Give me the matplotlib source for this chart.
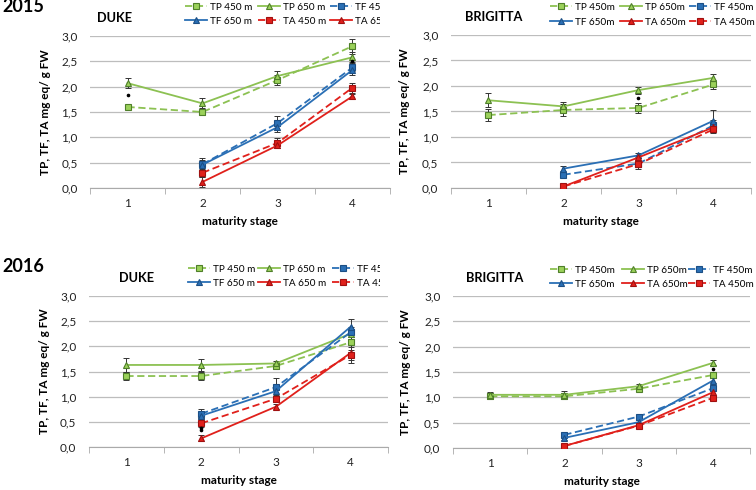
import numpy as np
import matplotlib.pyplot as plt
from matplotlib.ticker import FixedLocator, FuncFormatter
from matplotlib.transforms import Bbox, TransformedBbox

plt.rcParams['font.family'] = ['Lato', 'DejaVu Sans']

nan = np.nan
stages = [1, 2, 3, 4]
tick_labels = ['1', '2', '3', '4']

# 2015 DUKE
d15_tp450 = [1.60, 1.50, 2.13, 2.80]; d15_tp450_e = [0.03, 0.05, 0.10, 0.15]
d15_tp650 = [2.07, 1.67, 2.21, 2.58]; d15_tp650_e = [0.10, 0.10, 0.10, 0.10]
d15_tf450 = [nan, 0.47, 1.28, 2.38]; d15_tf450_e = [nan, 0.12, 0.14, 0.08]
d15_tf650 = [nan, 0.46, 1.20, 2.33]; d15_tf650_e = [nan, 0.10, 0.10, 0.10]
d15_ta450 = [nan, 0.30, 0.89, 1.98]; d15_ta450_e = [nan, 0.08, 0.10, 0.10]
d15_ta650 = [nan, 0.12, 0.84, 1.81]; d15_ta650_e = [nan, 0.10, 0.05, 0.05]
# 2015 BRIGITTA
b15_tp450 = [1.43, 1.53, 1.57, 2.03]; b15_tp450_e = [0.12, 0.12, 0.10, 0.08]
b15_tp650 = [1.72, 1.60, 1.92, 2.16]; b15_tp650_e = [0.14, 0.08, 0.07, 0.08]
b15_tf450 = [nan, 0.26, 0.48, 1.23]; b15_tf450_e = [nan, 0.03, 0.10, 0.10]
b15_tf650 = [nan, 0.38, 0.64, 1.32]; b15_tf650_e = [nan, 0.05, 0.05, 0.20]
b15_ta650 = [nan, 0.03, 0.60, 1.19]; b15_ta650_e = [nan, 0.02, 0.05, 0.08]
b15_ta450 = [nan, 0.03, 0.47, 1.15]; b15_ta450_e = [nan, 0.02, 0.05, 0.08]
# 2016 DUKE
d16_tp450 = [1.41, 1.41, 1.61, 2.08]; d16_tp450_e = [0.08, 0.08, 0.06, 0.10]
d16_tp650 = [1.63, 1.63, 1.66, 2.25]; d16_tp650_e = [0.14, 0.12, 0.05, 0.10]
d16_tf450 = [nan, 0.66, 1.19, 2.28]; d16_tf450_e = [nan, 0.09, 0.18, 0.10]
d16_tf650 = [nan, 0.62, 1.11, 2.39]; d16_tf650_e = [nan, 0.05, 0.08, 0.15]
d16_ta650 = [nan, 0.17, 0.80, 1.87]; d16_ta650_e = [nan, 0.06, 0.05, 0.20]
d16_ta450 = [nan, 0.47, 0.96, 1.83]; d16_ta450_e = [nan, 0.08, 0.06, 0.10]
# 2016 BRIGITTA
b16_tp450 = [1.02, 1.02, 1.17, 1.44]; b16_tp450_e = [0.06, 0.05, 0.04, 0.05]
b16_tp650 = [1.05, 1.05, 1.22, 1.68]; b16_tp650_e = [0.05, 0.07, 0.05, 0.05]
b16_tf450 = [nan, 0.26, 0.62, 1.18]; b16_tf450_e = [nan, 0.03, 0.03, 0.05]
b16_tf650 = [nan, 0.20, 0.51, 1.33]; b16_tf650_e = [nan, 0.04, 0.04, 0.05]
b16_ta650 = [nan, 0.04, 0.45, 1.10]; b16_ta650_e = [nan, 0.02, 0.04, 0.05]
b16_ta450 = [nan, 0.04, 0.44, 0.99]; b16_ta450_e = [nan, 0.02, 0.04, 0.04]

# significance dots (stage, value)
sig15d = [(1, 1.83), (4, 2.50)]
sig15b = [(3, 1.76)]
sig16d = [(2, 0.33), (2, 0.38)]
sig16b = [(4, 1.56)]

GREEN, GFACE, GEDGE = '#8cc152', '#9bd15a', '#4f7f2a'
BLUE, BEDGE = '#2a6fb5', '#1c4f85'
RED, REDGE = '#e0201b', '#a01010'

def style(kind, alt):
    dash = (0, (4, 2))
    face = {'TP': GFACE, 'TF': BLUE, 'TA': RED}[kind]
    edge = {'TP': GEDGE, 'TF': BEDGE, 'TA': REDGE}[kind]
    line = {'TP': GREEN, 'TF': BLUE, 'TA': RED}[kind]
    return dict(color=line, ls=dash if alt == '450' else '-',
                marker='s' if alt == '450' else '^', mfc=face, mec=edge)

W, H = 756, 490
fig = plt.figure(figsize=(W / 100, H / 100), dpi=100)

def rect(l, t, r, b):
    return [l / W, 1 - b / H, (r - l) / W, (b - t) / H]

panels = [
    dict(rect=rect(90, 36, 390, 188), title='DUKE', tx=97, ty=18, year='2015', yy=7,
         cols=[185, 258, 330], rows=(8, 23), sp=' m', clip=380, ylx=51, sig=sig15d,
         series=[('TP', '450', d15_tp450, d15_tp450_e), ('TP', '650', d15_tp650, d15_tp650_e),
                 ('TF', '450', d15_tf450, d15_tf450_e), ('TF', '650', d15_tf650, d15_tf650_e),
                 ('TA', '450', d15_ta450, d15_ta450_e), ('TA', '650', d15_ta650, d15_ta650_e)]),
    dict(rect=rect(451, 35, 751, 188), title='BRIGITTA', tx=465, ty=17, year=None,
         cols=[550, 620, 689], rows=(8, 24), sp='m', clip=None, ylx=410, sig=sig15b,
         series=[('TP', '450', b15_tp450, b15_tp450_e), ('TP', '650', b15_tp650, b15_tp650_e),
                 ('TF', '450', b15_tf450, b15_tf450_e), ('TF', '650', b15_tf650, b15_tf650_e),
                 ('TA', '650', b15_ta650, b15_ta650_e), ('TA', '450', b15_ta450, b15_ta450_e)]),
    dict(rect=rect(89, 296, 388, 447), title='DUKE', tx=119, ty=278, year='2016', yy=267,
         cols=[188, 258, 332], rows=(270, 285), sp=' m', clip=380, ylx=50, sig=sig16d,
         series=[('TP', '450', d16_tp450, d16_tp450_e), ('TP', '650', d16_tp650, d16_tp650_e),
                 ('TF', '450', d16_tf450, d16_tf450_e), ('TF', '650', d16_tf650, d16_tf650_e),
                 ('TA', '650', d16_ta650, d16_ta650_e), ('TA', '450', d16_ta450, d16_ta450_e)]),
    dict(rect=rect(453, 296, 750, 448), title='BRIGITTA', tx=466, ty=278, year=None,
         cols=[550, 622, 688], rows=(271, 286), sp='m', clip=None, ylx=411, sig=sig16b,
         series=[('TP', '450', b16_tp450, b16_tp450_e), ('TP', '650', b16_tp650, b16_tp650_e),
                 ('TF', '450', b16_tf450, b16_tf450_e), ('TF', '650', b16_tf650, b16_tf650_e),
                 ('TA', '650', b16_ta650, b16_ta650_e), ('TA', '450', b16_ta450, b16_ta450_e)]),
]

FS_LEG = 7.2
for p in panels:
    ax = fig.add_axes(p['rect'])
    handles, labels = [], []
    for kind, alt, vals, errs in p['series']:
        st = style(kind, alt)
        ax.errorbar(stages, vals, yerr=errs, fmt='none', ecolor='#333333',
                    elinewidth=0.7, capsize=2, capthick=0.7, zorder=2)
        h, = ax.plot(stages, vals, color=st['color'], ls=st['ls'], lw=1.3,
                     marker=st['marker'], ms=5, mfc=st['mfc'], mec=st['mec'],
                     mew=0.8, zorder=3)
        handles.append(h)
        labels.append(f'{kind} {alt}{p["sp"]}')
    for sx, sy in p['sig']:
        ax.plot(sx, sy, 'o', color='black', ms=1.6, zorder=4)

    ax.set_xlim(0.5, 4.5)
    ax.set_ylim(0, 3.0)
    ax.set_xticks(stages)
    ax.set_xticklabels(tick_labels)
    ax.xaxis.set_minor_locator(FixedLocator([0.5, 1.5, 2.5, 3.5, 4.5]))
    ax.tick_params(axis='x', which='major', length=0, labelsize=8.5, pad=7, colors='#222222')
    ax.tick_params(axis='x', which='minor', length=4, color='#aaaaaa')
    ax.set_yticks(np.arange(0, 3.01, 0.5))
    ax.yaxis.set_major_formatter(FuncFormatter(lambda v, _: f'{v:.1f}'.replace('.', ',')))
    ax.tick_params(axis='y', length=0, labelsize=8.5, pad=9, colors='#222222')
    ax.grid(axis='y', color='#bdbdbd', lw=0.9)
    ax.set_axisbelow(True)
    for s in ['top', 'right', 'left']:
        ax.spines[s].set_visible(False)
    ax.spines['bottom'].set_color('#aaaaaa')
    ax.set_xlabel('maturity stage', fontsize=8.5, fontweight='bold', labelpad=5)
    ax.set_ylabel('TP, TF, TA mg eq/ g FW', fontsize=8.5, fontweight='bold')
    l, b, w, hh = p['rect']
    ax.yaxis.set_label_coords((p['ylx'] / W - l) / w, 0.5)

    fig.text(p['tx'] / W, 1 - p['ty'] / H, p['title'], fontsize=9.2,
             fontweight='bold', va='center', ha='left')
    if p['year']:
        fig.text(2 / W, 1 - p['yy'] / H, p['year'], fontsize=13,
                 fontweight='bold', va='center', ha='left')

    # legend: three columns placed individually, two entries each
    r1, r2 = p['rows']
    line_px = FS_LEG * 1.39
    for c, cx in enumerate(p['cols']):
        idx = [c, c + 3]
        leg = fig.legend([handles[i] for i in idx], [labels[i] for i in idx],
                         loc='upper left', bbox_to_anchor=(cx / W, 1 - (r1 - line_px / 2) / H),
                         ncol=1, frameon=False, fontsize=FS_LEG, handlelength=2.2,
                         handletextpad=0.3, labelspacing=(r2 - r1 - line_px) / line_px,
                         borderaxespad=0, borderpad=0)
        if p['clip']:
            cb = TransformedBbox(Bbox([[0, 0], [p['clip'] / W, 1]]), fig.transFigure)
            for a in leg.findobj():
                a.set_clip_box(cb)
                a.set_clip_on(True)

fig.savefig('out.png', dpi=100)
